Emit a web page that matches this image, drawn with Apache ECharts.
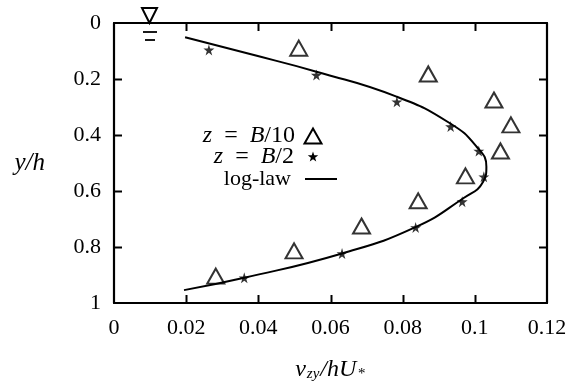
<!DOCTYPE html>
<html>
<head>
<meta charset="utf-8">
<script src="https://cdn.jsdelivr.net/npm/echarts@6/dist/echarts.min.js"></script>
<style>
  html, body { margin: 0; padding: 0; background: #fff; }
  #chart { width: 570px; height: 389px; }
</style>
</head>
<body>
<div id="chart"></div>
<script>
// Eddy viscosity profile nu_zy/(hU*) versus depth y/h
const xTicks = [0, 0.02, 0.04, 0.06, 0.08, 0.1, 0.12];
const yTicks = [0, 0.2, 0.4, 0.6, 0.8, 1];

// measurements at z = B/10 (open triangles)
const b10X = [0.0512, 0.0871, 0.1053, 0.1100, 0.1071, 0.0974, 0.0843, 0.0686, 0.0499, 0.0282];
const b10Y = [0.090, 0.182, 0.275, 0.364, 0.457, 0.546, 0.635, 0.725, 0.814, 0.904];

// measurements at z = B/2 (stars)
const b2X = [0.0263, 0.0561, 0.0784, 0.0933, 0.1011, 0.1025, 0.0965, 0.0836, 0.0632, 0.0361];
const b2Y = [0.096, 0.186, 0.281, 0.370, 0.457, 0.549, 0.638, 0.730, 0.823, 0.910];

// log-law profile
const logX = [0.0197, 0.0377, 0.0561, 0.0783, 0.0931, 0.1005, 0.1032, 0.1023, 0.0968, 0.0834, 0.0632, 0.0361, 0.0194];
const logY = [0.051, 0.111, 0.174, 0.263, 0.358, 0.442, 0.513, 0.567, 0.626, 0.730, 0.823, 0.910, 0.954];

(function () {
  const zip = (xs, ys) => xs.map((x, i) => [x, ys[i]]);

  const FONT = 'Liberation Serif, Times New Roman, serif';
  const STAR = 'path://M50,0 L61,35 L98,35 L68,57 L79,91 L50,70 L21,91 L32,57 L2,35 L39,35 Z';
  const TICK_LEN = 8;
  const GRID = { left: 114, right: 23, top: 23, bottom: 86 };
  const W = 570, H = 389;
  const axisLine = () => ({ show: true, onZero: false, lineStyle: { color: '#000', width: 2.2 } });
  const LABEL = { color: '#000', fontFamily: FONT, fontSize: 22 };

  // five-point star outline for the key, centred on (cx, cy)
  function starPoints(cx, cy, r) {
    const pts = [];
    for (let k = 0; k < 10; k++) {
      const a = -Math.PI / 2 + k * Math.PI / 5;
      const rr = k % 2 === 0 ? r : r * 0.4;
      pts.push([cx + rr * Math.cos(a), cy + rr * Math.sin(a)]);
    }
    return pts;
  }

  // frame rectangle of the plot
  const xMin = xTicks[0], xMax = xTicks[xTicks.length - 1];
  const yMin = yTicks[0], yMax = yTicks[yTicks.length - 1];
  const frameL = GRID.left, frameR = W - GRID.right;
  const frameT = GRID.top, frameB = H - GRID.bottom;
  const xPix = v => frameL + (v - xMin) / (xMax - xMin) * (frameR - frameL);
  const yPix = v => frameT + (v - yMin) / (yMax - yMin) * (frameB - frameT);

  // inward tick marks on all four sides of the frame
  const tickStyle = { stroke: '#000', lineWidth: 2 };
  const tickMarks = [];
  xTicks.slice(1, -1).forEach(v => {
    const x = Math.round(xPix(v)) + 0.5;
    tickMarks.push({ type: 'line', z: 100, shape: { x1: x, y1: frameB, x2: x, y2: frameB - TICK_LEN }, style: tickStyle });
    tickMarks.push({ type: 'line', z: 100, shape: { x1: x, y1: frameT, x2: x, y2: frameT + TICK_LEN }, style: tickStyle });
  });
  yTicks.slice(1, -1).forEach(v => {
    const y = Math.round(yPix(v)) + 0.5;
    tickMarks.push({ type: 'line', z: 100, shape: { x1: frameL, y1: y, x2: frameL + TICK_LEN, y2: y }, style: tickStyle });
    tickMarks.push({ type: 'line', z: 100, shape: { x1: frameR, y1: y, x2: frameR - TICK_LEN, y2: y }, style: tickStyle });
  });

  const keyAndMarks = [
    // water surface mark
    { type: 'polygon', shape: { points: [[142, 8], [157, 8], [149.5, 23]] },
      style: { fill: 'none', stroke: '#000', lineWidth: 2 } },
    { type: 'line', shape: { x1: 143, y1: 32, x2: 157, y2: 32 }, style: { stroke: '#000', lineWidth: 1.8 } },
    { type: 'line', shape: { x1: 145, y1: 40, x2: 155, y2: 40 }, style: { stroke: '#000', lineWidth: 1.8 } },
    // key
    { type: 'text', x: 295, y: 136,
      style: { text: '{i|z}  =  {i|B}/10', align: 'right', verticalAlign: 'middle',
        font: '24px ' + FONT, fill: '#000',
        rich: { i: { fontFamily: FONT, fontStyle: 'italic', fontSize: 24 } } } },
    { type: 'text', x: 294, y: 157,
      style: { text: '{i|z}  =  {i|B}/2', align: 'right', verticalAlign: 'middle',
        font: '24px ' + FONT, fill: '#000',
        rich: { i: { fontFamily: FONT, fontStyle: 'italic', fontSize: 24 } } } },
    { type: 'text', x: 291, y: 179,
      style: { text: 'log-law', align: 'right', verticalAlign: 'middle',
        font: '22px ' + FONT, fill: '#000' } },
    { type: 'polygon', shape: { points: [[304.5, 143.5], [321.5, 143.5], [313, 128.5]] },
      style: { fill: 'none', stroke: '#000', lineWidth: 2 } },
    { type: 'polygon', shape: { points: starPoints(313, 157, 5.5) }, style: { fill: '#000' } },
    { type: 'line', shape: { x1: 305, y1: 179, x2: 337, y2: 179 }, style: { stroke: '#000', lineWidth: 2 } }
  ];

  const chart = echarts.init(document.getElementById('chart'), null, { renderer: 'canvas', width: W, height: H });

  chart.setOption({
    backgroundColor: '#fff',
    animation: false,
    grid: Object.assign({ containLabel: false }, GRID),
    xAxis: [{
      type: 'value', min: xMin, max: xMax, interval: 0.02,
      position: 'bottom',
      axisLine: axisLine(), axisTick: { show: false }, splitLine: { show: false },
      axisLabel: Object.assign({ margin: 14, formatter: v => String(+v.toFixed(2)) }, LABEL),
      name: '{i|ν}{s|zy}{i|/hU}{s|*}',
      nameLocation: 'middle', nameGap: 55,
      nameTextStyle: {
        rich: {
          i: { fontFamily: FONT, fontStyle: 'italic', fontSize: 24, color: '#000' },
          s: { fontFamily: FONT, fontStyle: 'italic', fontSize: 15, color: '#000', verticalAlign: 'bottom', padding: [9, 1, 0, 1] }
        }
      }
    }, {
      type: 'value', min: xMin, max: xMax, interval: 0.02,
      position: 'top',
      axisLine: axisLine(), axisTick: { show: false }, splitLine: { show: false },
      axisLabel: { show: false }
    }],
    yAxis: [{
      type: 'value', min: yMin, max: yMax, interval: 0.2, inverse: true,
      position: 'left',
      axisLine: axisLine(), axisTick: { show: false }, splitLine: { show: false },
      axisLabel: Object.assign({ margin: 13, formatter: v => String(+v.toFixed(1)) }, LABEL),
      name: 'y/h', nameLocation: 'middle', nameRotate: 0, nameGap: 69,
      nameTextStyle: { fontFamily: FONT, fontStyle: 'italic', fontSize: 25, color: '#000' }
    }, {
      type: 'value', min: yMin, max: yMax, interval: 0.2, inverse: true,
      position: 'right',
      axisLine: axisLine(), axisTick: { show: false }, splitLine: { show: false },
      axisLabel: { show: false }
    }],
    series: [{
      name: 'log-law', type: 'line', smooth: 0.5, symbol: 'none',
      lineStyle: { color: '#000', width: 2 },
      data: zip(logX, logY), z: 2
    }, {
      name: 'z = B/10', type: 'scatter', symbol: 'triangle', symbolSize: [17, 15],
      itemStyle: { color: 'rgba(0,0,0,0)', borderColor: '#000', borderWidth: 2 },
      data: zip(b10X, b10Y), z: 3
    }, {
      name: 'z = B/2', type: 'scatter', symbol: STAR, symbolSize: 11,
      itemStyle: { color: '#000' },
      data: zip(b2X, b2Y), z: 3
    }],
    graphic: { elements: keyAndMarks.concat(tickMarks) }
  });
})();
</script>
</body>
</html>
